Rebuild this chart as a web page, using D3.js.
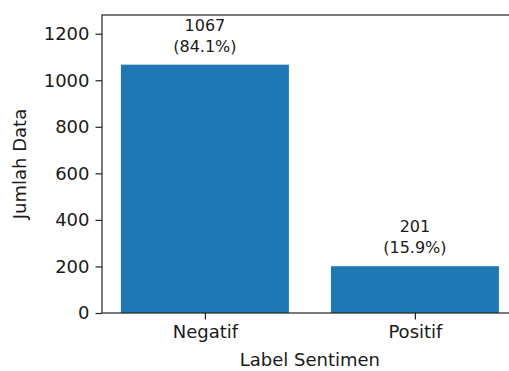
<!DOCTYPE html>
<html>
<head>
<meta charset="utf-8">
<script src="https://cdn.jsdelivr.net/npm/d3@7"></script>
<style>
  body { margin: 0; background: #fff; }
  svg { display: block; }
  text { font-family: "DejaVu Sans", sans-serif; fill: #1a1a1a; }
</style>
</head>
<body>
<div id="chart"></div>
<script>
// data
var categories = ["Negatif", "Positif"];
var counts = [1067, 201];
var percents = ["84.1%", "15.9%"];
var yTicks = [0, 200, 400, 600, 800, 1000, 1200];

var W = 509, H = 371;
var margin = {top: 15, left: 102, bottom: 58};
var plotH = H - margin.top - margin.bottom;   // ~298
var unit = 210;                                // px per category step
var plotW = unit * 1.98;                       // runs past the right edge, like the cropped original

var svg = d3.select("#chart").append("svg")
    .attr("width", W)
    .attr("height", H);

var g = svg.append("g")
    .attr("transform", "translate(" + margin.left + "," + margin.top + ")");

var x = d3.scaleLinear().domain([-0.49, 1.49]).range([0, plotW]);
var y = d3.scaleLinear().domain([0, d3.max(counts) * 1.2]).range([plotH, 0]);

var data = categories.map(function(c, i) {
  return {cat: c, idx: i, n: counts[i], pct: percents[i]};
});

// bars
g.selectAll(".bar")
  .data(data)
  .enter().append("rect")
  .attr("class", "bar")
  .attr("x", function(d) { return x(d.idx - 0.4); })
  .attr("width", x(0.8) - x(0))
  .attr("y", function(d) { return y(d.n); })
  .attr("height", function(d) { return plotH - y(d.n); })
  .style("fill", "#1f77b4");

// value labels
var lab = g.selectAll(".lab")
  .data(data)
  .enter().append("text")
  .attr("class", "lab")
  .attr("text-anchor", "middle")
  .style("font-size", "16px");
lab.append("tspan")
  .attr("x", function(d) { return x(d.idx); })
  .attr("y", function(d) { return y(d.n) - 34; })
  .text(function(d) { return d.n; });
lab.append("tspan")
  .attr("x", function(d) { return x(d.idx); })
  .attr("y", function(d) { return y(d.n) - 13; })
  .text(function(d) { return "(" + d.pct + ")"; });

// y axis
var yAxis = d3.axisLeft(y).tickValues(yTicks).tickFormat(d3.format("d"))
  .tickSize(6.5).tickPadding(6);
g.append("g")
  .attr("class", "axis")
  .call(yAxis)
  .call(function(s) {
    s.select(".domain").remove();
    s.selectAll("text").style("font-size", "18px").style("font-family", null);
  });

// x axis
var xAxis = d3.axisBottom(x).tickValues([0, 1])
  .tickFormat(function(i) { return categories[i]; })
  .tickSize(6.5).tickPadding(6);
g.append("g")
  .attr("class", "axis")
  .attr("transform", "translate(0," + plotH + ")")
  .call(xAxis)
  .call(function(s) {
    s.select(".domain").remove();
    s.selectAll("text").style("font-size", "18px").style("font-family", null);
  });

g.selectAll(".axis line").attr("stroke", "#222").attr("stroke-width", 1.2);

// spines
var sp = g.append("g").attr("stroke", "#222").attr("stroke-width", 1.2).attr("fill", "none");
sp.append("rect").attr("x", 0).attr("y", 0).attr("width", plotW).attr("height", plotH);

// axis titles
svg.append("text")
  .attr("x", margin.left + plotW / 2)
  .attr("y", 366)
  .attr("text-anchor", "middle")
  .style("font-size", "18px")
  .text("Label Sentimen");

svg.append("text")
  .attr("transform", "translate(26," + (margin.top + plotH / 2) + ") rotate(-90)")
  .attr("text-anchor", "middle")
  .style("font-size", "18px")
  .text("Jumlah Data");
</script>
</body>
</html>
